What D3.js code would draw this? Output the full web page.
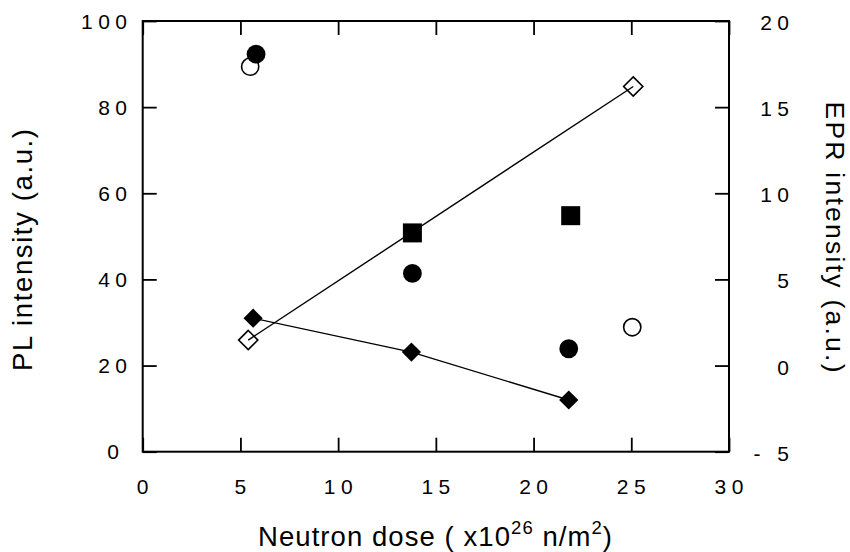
<!DOCTYPE html>
<html>
<head>
<meta charset="utf-8">
<script src="https://cdn.jsdelivr.net/npm/d3@7"></script>
<style>
  html, body { margin: 0; padding: 0; background: #fff; }
  svg { display: block; font-family: "Liberation Sans", Arial, Helvetica, sans-serif; }
</style>
</head>
<body>
<svg id="chart" width="850" height="552"></svg>
<script>
// ---- data ----
const xTicks = [0, 5, 10, 15, 20, 25, 30];
const xTickLabels = ["0", "5", "10", "15", "20", "25", "30"];
const plTicks = [0, 20, 40, 60, 80, 100];
const plTickLabels = ["0", "20", "40", "60", "80", "100"];
const eprTicks = [-5, 0, 5, 10, 15, 20];
const eprTickLabels = ["- 5", "0", "5", "10", "15", "20"];

// filled circles (PL, left axis)
const circFilledDose = [5.8, 13.8, 21.8];
const circFilledPL = [92.3, 41.4, 23.9];
// open circles (PL, left axis)
const circOpenDose = [5.5, 25.05];
const circOpenPL = [89.4, 28.9];
// filled squares (EPR, right axis)
const squareDose = [13.8, 21.9];
const squareEPR = [7.7, 8.7];
// filled diamonds (EPR, right axis), joined by a line
const diaFilledDose = [5.65, 13.75, 21.8];
const diaFilledEPR = [2.75, 0.78, -2.0];
// open diamonds (EPR, right axis), joined by a line
const diaOpenDose = [5.4, 25.1];
const diaOpenEPR = [1.48, 16.2];

// ---- layout ----
const svg = d3.select("#chart");
const L = 142.7, R = 729, T = 21, B = 451.7;

const x = d3.scaleLinear().domain([0, 30]).range([L, R]);
const yL = d3.scaleLinear().domain([0, 100]).range([B, T]);
const yR = d3.scaleLinear().domain([-5, 20]).range([B, T]);

const tickLen = 14;
const axStroke = 2;

// frame
svg.append("rect")
  .attr("x", L).attr("y", T).attr("width", R - L).attr("height", B - T)
  .attr("fill", "none").attr("stroke", "#000").attr("stroke-width", axStroke);

// axes via d3 axis generators (inward ticks, labels drawn separately)
function styleAxis(g) {
  g.select(".domain").remove();
  g.selectAll(".tick line").attr("stroke", "#000").attr("stroke-width", 1.8);
  g.selectAll(".tick text").remove();
}
svg.append("g").attr("transform", `translate(0,${B})`)
  .call(d3.axisTop(x).tickValues(xTicks).tickSize(tickLen)).call(styleAxis);
svg.append("g").attr("transform", `translate(0,${T})`)
  .call(d3.axisBottom(x).tickValues(xTicks).tickSize(tickLen)).call(styleAxis);
svg.append("g").attr("transform", `translate(${L},0)`)
  .call(d3.axisRight(yL).tickValues(plTicks).tickSize(tickLen)).call(styleAxis);
svg.append("g").attr("transform", `translate(${R},0)`)
  .call(d3.axisLeft(yR).tickValues(eprTicks).tickSize(tickLen)).call(styleAxis);

// tick labels
const tfs = 21, ls = 5.5;
svg.append("g").selectAll("text").data(xTicks).join("text")
  .attr("x", d => x(d) + ls / 2).attr("y", 494)
  .attr("text-anchor", "middle").attr("font-size", tfs)
  .attr("letter-spacing", ls)
  .text((d, i) => xTickLabels[i]);

svg.append("g").selectAll("text").data(plTicks).join("text")
  .attr("x", d => (d === 0 ? 119 : 127) + ls).attr("y", d => yL(d) + 7.5)
  .attr("text-anchor", "end").attr("font-size", tfs)
  .attr("letter-spacing", ls)
  .text((d, i) => plTickLabels[i]);

svg.append("g").selectAll("text").data(eprTicks).join("text")
  .attr("x", 789 + ls).attr("y", d => yR(d) + 9)
  .attr("text-anchor", "end").attr("font-size", tfs)
  .attr("letter-spacing", ls)
  .text((d, i) => eprTickLabels[i]);

// lines
const lineGen = ys => d3.line().x(d => x(d[0])).y(d => ys(d[1]));
svg.append("path")
  .datum(diaOpenDose.map((d, i) => [d, diaOpenEPR[i]]))
  .attr("d", lineGen(yR))
  .attr("fill", "none").attr("stroke", "#000").attr("stroke-width", 1.4);
svg.append("path")
  .datum(diaFilledDose.map((d, i) => [d, diaFilledEPR[i]]))
  .attr("d", lineGen(yR))
  .attr("fill", "none").attr("stroke", "#000").attr("stroke-width", 1.4);

// symbols
const dia = 9.6;
function diamondPath(cx, cy) {
  return `M${cx},${cy - dia}L${cx + dia},${cy}L${cx},${cy + dia}L${cx - dia},${cy}Z`;
}
svg.append("g").selectAll("path").data(diaOpenDose).join("path")
  .attr("d", (d, i) => diamondPath(x(d), yR(diaOpenEPR[i])))
  .attr("fill", "none").attr("stroke", "#000").attr("stroke-width", 1.6);
svg.append("g").selectAll("path").data(diaFilledDose).join("path")
  .attr("d", (d, i) => diamondPath(x(d), yR(diaFilledEPR[i])))
  .attr("fill", "#000");

const sq = 19;
svg.append("g").selectAll("rect").data(squareDose).join("rect")
  .attr("x", d => x(d) - sq / 2)
  .attr("y", (d, i) => yR(squareEPR[i]) - sq / 2)
  .attr("width", sq).attr("height", sq).attr("fill", "#000");

svg.append("g").selectAll("circle").data(circOpenDose).join("circle")
  .attr("cx", d => x(d)).attr("cy", (d, i) => yL(circOpenPL[i]))
  .attr("r", 8.6).attr("fill", "#fff").attr("stroke", "#000").attr("stroke-width", 1.6);
svg.append("g").selectAll("circle").data(circFilledDose).join("circle")
  .attr("cx", d => x(d)).attr("cy", (d, i) => yL(circFilledPL[i]))
  .attr("r", 9.4).attr("fill", "#000");

// axis titles
const tts = 27.5;
const xt = svg.append("text")
  .attr("x", 258).attr("y", 546).attr("font-size", tts)
  .attr("textLength", 354).attr("lengthAdjust", "spacing");
xt.append("tspan").text("Neutron dose ( x10");
xt.append("tspan").attr("font-size", 18.5).attr("dy", -12).text("26");
xt.append("tspan").attr("dy", 12).text("  n/m");
xt.append("tspan").attr("font-size", 18.5).attr("dy", -12).text("2");
xt.append("tspan").attr("dy", 12).text(")");

svg.append("text")
  .attr("transform", "translate(32,250) rotate(-90)")
  .attr("text-anchor", "middle").attr("font-size", tts)
  .attr("textLength", 242).attr("lengthAdjust", "spacing")
  .text("PL  intensity  (a.u.)");

svg.append("text")
  .attr("transform", "translate(826,237) rotate(90)")
  .attr("text-anchor", "middle").attr("font-size", tts - 1)
  .attr("textLength", 271).attr("lengthAdjust", "spacing")
  .text("EPR  intensity  (a.u.)");
</script>
</body>
</html>
